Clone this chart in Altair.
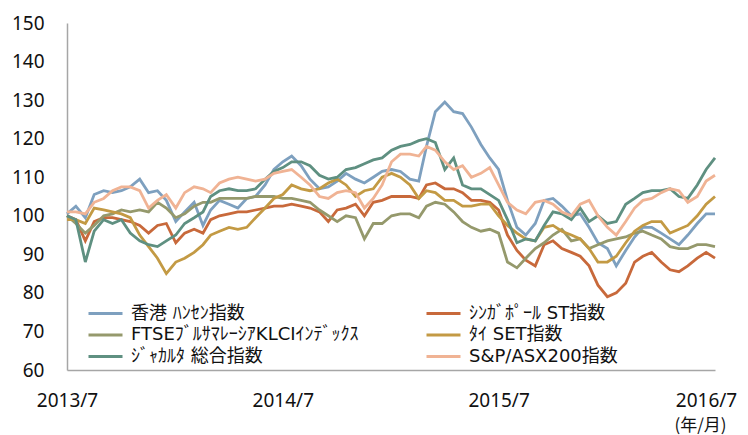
import altair as alt
import pandas as pd

# ---- data (semi-monthly readings, 2013/7 .. 2016/7, index 100 = start) ----
# legend order (column by column): left column then right column
series_names = [
    "香港 ﾊﾝｾﾝ指数",
    "FTSEﾌﾞﾙｻﾏﾚｰｼｱKLCIｲﾝﾃﾞｯｸｽ",
    "ｼﾞｬｶﾙﾀ 総合指数",
    "ｼﾝｶﾞﾎﾟｰﾙ ST指数",
    "ﾀｲ SET指数",
    "S&P/ASX200指数",
]
colors = ["#7ea0bf", "#95996c", "#5f9081", "#c8693b", "#c39a44", "#f0b394"]
# drawing order (later = on top)
draw_order = [0, 3, 1, 4, 2, 5]

hongkong = [100.5, 102.5, 99.5, 105.5, 106.5, 106, 106.5, 107.5, 109.5, 106,
            106.5, 104, 98.5, 101, 103.5, 97.5, 101.5, 104, 103, 102,
            104.5, 105, 108, 112, 114, 115.5, 113, 109.5, 107, 107.5,
            109, 111, 109.5, 108.5, 110, 111.5, 112, 111.5, 109.5, 109,
            118, 127, 129.5, 127, 126.5, 123, 118.5, 115, 112, 104,
            97, 95, 98, 104, 104.5, 102.5, 100, 100.5, 97, 93,
            91.5, 87, 91, 94.5, 97, 97, 95.5, 94, 92.5, 95,
            98, 100.5, 100.5]
malaysia = [100, 98, 95.5, 97.5, 100, 100.5, 101.5, 101, 101.5, 101,
            103.5, 102, 99.5, 100.5, 102.5, 103.5, 103.5, 104.5, 104.5, 104.5,
            104.5, 105, 105, 105, 104.5, 104.5, 104, 103.5, 101.5, 100,
            98.5, 100, 99.5, 94, 98, 98, 100, 100.5, 100.5, 99.5,
            102.5, 103.5, 103, 101, 98.5, 97, 96, 96.5, 95.5, 88,
            86.5, 89, 91.5, 93, 95, 96.5, 93.5, 94, 91.5, 92.5,
            93.5, 94, 94.5, 95.5, 96, 95, 94, 92, 91.5, 91.5,
            92.5, 92.5, 92]
jakarta = [100, 99, 88, 96, 99, 98, 99, 95.5, 93.5, 92.5,
           92, 93.5, 95, 98, 99.5, 101, 105, 106.5, 107, 106.5,
           106.5, 107, 109.5, 111.5, 112.5, 114, 114, 113, 110.5, 109.5,
           110, 112, 112.5, 113.5, 114.5, 115, 117, 118, 118.5, 119.5,
           120, 119, 112, 115, 108, 107, 107, 105.5, 104, 99,
           93, 94, 93.5, 97.5, 101, 100.5, 99, 102, 98.5, 100,
           98, 98.5, 103, 104.5, 106, 106.5, 106.5, 107, 105, 104.5,
           108, 112, 115]
singapore = [100, 99, 93.5, 98.5, 99.5, 99.5, 99, 98.5, 97.5, 95.5,
             97.5, 98, 93, 95.5, 96.5, 95.5, 99, 100, 100.5, 101,
             101, 101.5, 102, 102.5, 102.5, 103, 102.5, 102, 101, 98.5,
             101.5, 102, 103, 100, 103.5, 104, 105, 105, 105, 104.5,
             108, 108.5, 107, 107, 106, 104, 104, 103.5, 101.5, 95,
             91, 88.5, 87, 92.5, 93.5, 91.5, 90.5, 89.5, 87, 82,
             79, 80, 82.5, 88, 89.5, 90.5, 88, 86, 85.5, 87,
             89, 90.5, 89]
thailand = [99, 99, 98, 102, 101.5, 101, 100.5, 99.5, 95, 92,
            89, 85, 88, 89, 90.5, 92.5, 95, 96, 97, 96.5,
            97, 99.5, 102, 104.5, 105.5, 108, 107, 106.5, 107, 108.5,
            109.5, 108, 105, 106.5, 107, 110, 111, 110, 108, 104.5,
            106.5, 106, 104, 104, 102.5, 102.5, 103, 103, 100, 97.5,
            95.5, 94, 93.5, 97, 97.5, 96, 95, 94, 91.5, 88,
            88, 89.5, 93, 96, 97.5, 98.5, 98.5, 95.5, 96.5, 97.5,
            100, 103, 105]
australia = [101, 101, 100.5, 103.5, 104.5, 106.5, 107.5, 107.5, 106.5, 102,
             104, 105.5, 102, 106, 107.5, 107, 106, 108.5, 109.5, 110,
             109.5, 109, 109.5, 111, 111.5, 112, 110, 108, 105, 104.5,
             106, 106.5, 106, 102, 104.5, 108, 114, 116, 116, 115.5,
             118, 117, 114, 112, 113, 110, 111, 112.5, 108, 103.5,
             101.5, 100.5, 103.5, 104, 103, 101, 100, 103, 104, 100,
             97, 95, 98.5, 102, 104, 104.5, 106, 107, 106.5, 103.5,
             105, 109, 110.5]

all_values = [hongkong, malaysia, jakarta, singapore, thailand, australia]

# semi-monthly dates: 1st and 16th of each month from 2013/7/1 to 2016/7/1
dates = []
for i in range(73):
    m = 6 + i // 2
    y, mo = 2013 + m // 12, m % 12 + 1
    d = 1 if i % 2 == 0 else 16
    dates.append(f"{y:04d}-{mo:02d}-{d:02d}T00:00:00")

rows = []
for k in draw_order:
    for dt, v in zip(dates, all_values[k]):
        rows.append({"date": dt, "value": v, "series": series_names[k]})
df = pd.DataFrame(rows)

AXFONT = "Noto Sans, DejaVu Sans, sans-serif"
LGFONT = "DejaVu Sans, Noto Sans CJK JP, sans-serif"

x_axis = alt.Axis(
    values=[alt.DateTime(year=2013 + j, month=7, date=1) for j in range(4)],
    format="%Y/%-m",
    formatType="time",
    labelFont=AXFONT,
    labelFontSize=19,
    labelColor="#111",
    labelPadding=21,
    labelFlush=False,
    labelOverlap=False,
    labelOffset=alt.condition("datum.value > datetime(2016, 4, 1)", alt.value(-9), alt.value(0)),
    ticks=False,
    tickSize=0,
    grid=False,
    domainColor="#a6a6a6",
    domainWidth=1.5,
    title="(年/月)",
    titleFont="Noto Sans CJK JP, sans-serif",
    titleFontSize=17,
    titleFontWeight="normal",
    titleColor="#111",
    titleAnchor="start",
    titleAlign="center",
    titleBaseline="middle",
    titleX=633,
    titleY=55,
)

y_axis = alt.Axis(
    values=list(range(60, 151, 10)),
    labelFont=AXFONT,
    labelFontSize=19,
    labelColor="#111",
    labelPadding=23,
    ticks=False,
    tickSize=0,
    grid=False,
    domainColor="#a6a6a6",
    domainWidth=1.5,
    title=None,
)

legend = alt.Legend(
    title=None,
    orient="none",
    legendX=20,
    legendY=281,
    columns=2,
    columnPadding=66,
    rowPadding=2.5,
    symbolType="stroke",
    symbolSize=1156,
    symbolStrokeWidth=3,
    clipHeight=19,
    labelFont=LGFONT,
    labelFontSize=18,
    labelColor="#111",
    labelOffset=7,
    labelLimit=500,
    padding=0,
)

chart = (
    alt.Chart(df)
    .mark_line(strokeWidth=2.8)
    .encode(
        x=alt.X(
            "date:T",
            scale=alt.Scale(domain=[alt.DateTime(year=2013, month=7, date=1),
                                    alt.DateTime(year=2016, month=7, date=1)]),
            axis=x_axis,
        ),
        y=alt.Y("value:Q", scale=alt.Scale(domain=[60, 150], nice=False, zero=False), axis=y_axis),
        color=alt.Color("series:N", scale=alt.Scale(domain=series_names, range=colors), legend=legend),
        order=alt.Order("date:T"),
    )
    .properties(
        width=648,
        height=347,
        autosize=alt.AutoSizeParams(type="none"),
        padding={"left": 59, "top": 15, "right": 25, "bottom": 65},
    )
    .configure_view(stroke=None)
)

chart.save("out.html", embed_options={"renderer": "svg", "actions": False})
